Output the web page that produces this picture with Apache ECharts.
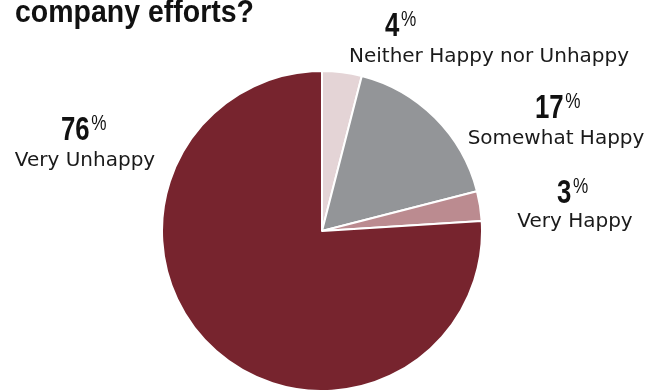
<!DOCTYPE html>
<html>
<head>
<meta charset="utf-8">
<script src="https://cdn.jsdelivr.net/npm/echarts@6/dist/echarts.min.js"></script>
<style>
  html, body { margin: 0; padding: 0; background: #fff; }
  #chart { width: 653px; height: 390px; }
</style>
</head>
<body>
<div id="chart"></div>
<script>
// Survey answers and their shares (percent)
const categories = ['Neither Happy nor Unhappy', 'Somewhat Happy', 'Very Happy', 'Very Unhappy'];
const shares = [4, 17, 3, 76];
const heading = 'company efforts?';

// Slice colours, in the same order as the categories
const palette = ['#e4d4d6', '#939598', '#bb8b90', '#77242e'];

// Where each callout sits: [number left x, number top y, name centre x, name middle y]
const calloutSpots = [
  [385, 9, 489, 57],
  [535, 91, 556, 139],
  [557, 176, 575, 222],
  [61, 113, 85, 161]
];

// No narrow face is installed, so the bold figures are squeezed horizontally
const boldFace = '"Liberation Sans", Arial, sans-serif';
const plain = '"DejaVu Sans", sans-serif';

const graphics = [{
  type: 'text',
  x: 15, y: 13,
  scaleX: 0.89,
  silent: true,
  style: {
    text: heading,
    fontFamily: boldFace,
    fontWeight: 'bold',
    fontSize: 32,
    fill: '#111',
    align: 'left',
    verticalAlign: 'middle'
  }
}];

categories.forEach((name, i) => {
  const [nx, ny, cx, cy] = calloutSpots[i];
  graphics.push({
    type: 'text',
    x: nx, y: ny,
    scaleX: 0.78,
    silent: true,
    style: {
      text: '{n|' + shares[i] + '}{p|%}',
      align: 'left',
      verticalAlign: 'top',
      rich: {
        n: { fontFamily: boldFace, fontWeight: 'bold', fontSize: 33, fill: '#111', lineHeight: 36 },
        p: { fontFamily: boldFace, fontWeight: 'normal', fontSize: 22, fill: '#111', verticalAlign: 'top', lineHeight: 36, padding: [0, 0, 0, 2] }
      }
    }
  });
  graphics.push({
    type: 'text',
    x: cx, y: cy,
    silent: true,
    style: {
      text: name,
      fontFamily: plain,
      fontSize: 20,
      fill: '#1a1a1a',
      align: 'center',
      verticalAlign: 'middle'
    }
  });
});

const chart = echarts.init(document.getElementById('chart'));
chart.setOption({
  animation: false,
  graphic: graphics,
  series: [{
    type: 'pie',
    center: [322, 231],
    radius: 160,
    startAngle: 90,
    clockwise: true,
    silent: true,
    label: { show: false },
    labelLine: { show: false },
    itemStyle: { borderColor: '#fff', borderWidth: 2 },
    data: categories.map((name, i) => ({
      name: name,
      value: shares[i],
      itemStyle: { color: palette[i] }
    }))
  }]
});
</script>
</body>
</html>
